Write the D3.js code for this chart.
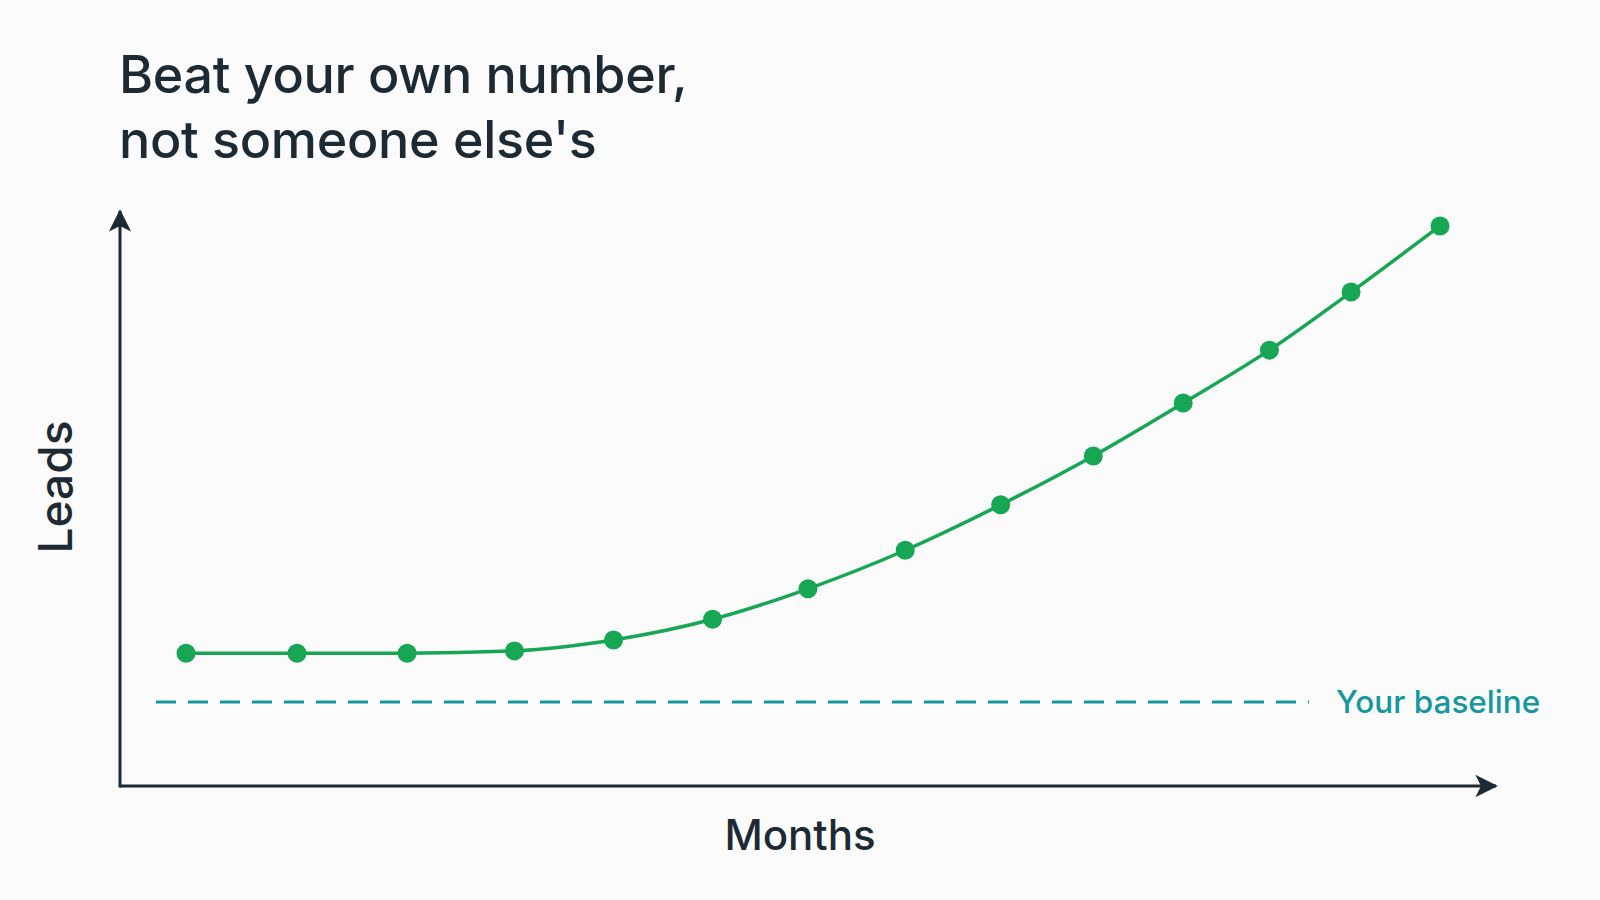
<!DOCTYPE html>
<html>
<head>
<meta charset="utf-8">
<script src="https://cdn.jsdelivr.net/npm/d3@7"></script>
<style>
  html, body { margin: 0; padding: 0; background: #fbfbfb; }
  svg { display: block; font-family: Inter, "Noto Sans", sans-serif; }
</style>
</head>
<body>
<div id="chart"></div>
<script>
// chart data (no ticks, so units are arbitrary)
const titleLines = ["Beat your own number,", "not someone else's"];
// point positions along the months axis (axis runs 0-15)
const months = [0.72, 1.93, 3.13, 4.30, 5.38, 6.46, 7.50, 8.56, 9.60, 10.61, 11.59, 12.53, 13.42, 14.39];
// leads, axis runs 0-100
const leads = [23.1, 23.1, 23.1, 23.5, 25.4, 29.0, 34.3, 41.0, 48.9, 57.4, 66.6, 75.8, 85.9, 97.4];
const baseline = 14.6;
const baselineLabel = "Your baseline";
const xLabel = "Months";
const yLabel = "Leads";

const svgWidth = 1600;
const svgHeight = 900;

const ink = "#1e2a33";
const green = "#17a653";
const teal = "#15979f";

const svg = d3.select("#chart")
    .append("svg")
    .attr("width", svgWidth)
    .attr("height", svgHeight);

// axis frame
const origin = { x: 120, y: 786 };
const xEnd = 1496;
const yTop = 211;

// scales
const x = d3.scaleLinear()
    .domain([0, 15])
    .range([origin.x, xEnd]);

const y = d3.scaleLinear()
    .domain([0, 100])
    .range([origin.y, yTop]);

// arrow head
svg.append("defs").append("marker")
    .attr("id", "arrow")
    .attr("viewBox", "0 0 12 12")
    .attr("refX", 11)
    .attr("refY", 6)
    .attr("markerWidth", 7.5)
    .attr("markerHeight", 7.5)
    .attr("markerUnits", "strokeWidth")
    .attr("orient", "auto")
    .append("path")
    .attr("d", "M0,0 L12,6 L0,12 L3,6 Z")
    .attr("fill", ink);

// title
svg.append("text")
    .attr("x", 119)
    .attr("y", 93)
    .attr("fill", ink)
    .attr("font-size", 52)
    .attr("font-weight", 500)
    .attr("letter-spacing", -0.3)
    .selectAll("tspan")
    .data(titleLines)
    .join("tspan")
    .attr("x", 119)
    .attr("dy", (d, i) => i === 0 ? 0 : 65)
    .text(d => d);

// axes
svg.append("line")
    .attr("x1", origin.x).attr("y1", origin.y)
    .attr("x2", xEnd).attr("y2", origin.y)
    .attr("stroke", ink)
    .attr("stroke-width", 3)
    .attr("marker-end", "url(#arrow)");

svg.append("line")
    .attr("x1", origin.x).attr("y1", origin.y + 1.5)
    .attr("x2", origin.x).attr("y2", yTop)
    .attr("stroke", ink)
    .attr("stroke-width", 3)
    .attr("marker-end", "url(#arrow)");

// axis labels
svg.append("text")
    .attr("x", 800)
    .attr("y", 850)
    .attr("text-anchor", "middle")
    .attr("fill", ink)
    .attr("font-size", 42)
    .attr("font-weight", 500)
    .text(xLabel);

svg.append("text")
    .attr("transform", "translate(72, 487) rotate(-90)")
    .attr("text-anchor", "middle")
    .attr("fill", ink)
    .attr("font-size", 46)
    .attr("font-weight", 500)
    .text(yLabel);

// baseline
svg.append("line")
    .attr("x1", 156)
    .attr("x2", 1309)
    .attr("y1", y(baseline))
    .attr("y2", y(baseline))
    .attr("stroke", teal)
    .attr("stroke-width", 3)
    .attr("stroke-dasharray", "20 12");

svg.append("text")
    .attr("x", 1336)
    .attr("y", y(baseline) + 11)
    .attr("fill", teal)
    .attr("font-size", 31.5)
    .attr("font-weight", 500)
    .text(baselineLabel);

// leads line
const data = months.map((m, i) => ({ month: m, leads: leads[i] }));

const line = d3.line()
    .x(d => x(d.month))
    .y(d => y(d.leads))
    .curve(d3.curveMonotoneX);

svg.append("path")
    .datum(data)
    .attr("d", line)
    .attr("fill", "none")
    .attr("stroke", green)
    .attr("stroke-width", 3.5);

svg.selectAll("circle")
    .data(data)
    .join("circle")
    .attr("cx", d => x(d.month))
    .attr("cy", d => y(d.leads))
    .attr("r", 9.5)
    .attr("fill", green);
</script>
</body>
</html>
